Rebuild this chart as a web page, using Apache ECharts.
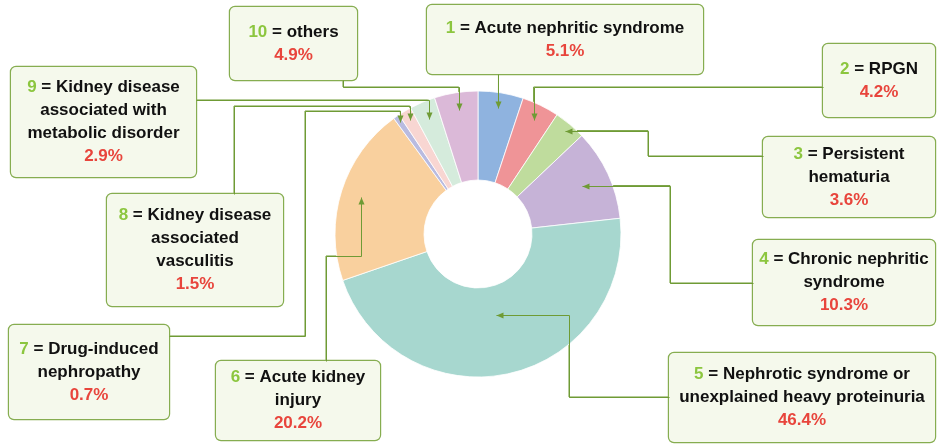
<!DOCTYPE html>
<html>
<head>
<meta charset="utf-8">
<script src="https://cdn.jsdelivr.net/npm/echarts@6/dist/echarts.min.js"></script>
<style>html,body{margin:0;padding:0;background:#fff}#c{width:937px;height:444px}</style>
</head>
<body>
<div id="c"></div>
<script>
// ---- data ----
const categories = [
  'Acute nephritic syndrome',
  'RPGN',
  'Persistent\nhematuria',
  'Chronic nephritic\nsyndrome',
  'Nephrotic syndrome or\nunexplained heavy proteinuria',
  'Acute kidney\ninjury',
  'Drug-induced\nnephropathy',
  'Kidney disease\nassociated\nvasculitis',
  'Kidney disease\nassociated with\nmetabolic disorder',
  'others'
];
const codes = ['1', '2', '3', '4', '5', '6', '7', '8', '9', '10'];
const values = [5.1, 4.2, 3.6, 10.3, 46.4, 20.2, 0.7, 1.5, 2.9, 4.9];

// ---- styles / layout ----
const colors = ['#8fb3df', '#ef9497', '#bfdc9d', '#c6b3d7', '#a7d7cf', '#f9d09e', '#b9bbe0', '#f8d6d2', '#d5ebdc', '#dbb9d8'];
const FONT = '"Liberation Sans", Arial, Helvetica, sans-serif';
const FS = 17;
const LINE = '#6f9b35';
const CX = 478, CY = 234;
const LH = 23;
// box centre, size, number of text lines, arrow radius, route
const boxes = [
  {x: 565,   y: 39.5,  w: 276, h: 69,  n: 2, r: 128, dir: 'v', bend: 74,  rest: []},
  {x: 879,   y: 80.5,  w: 112, h: 73,  n: 2, r: 127, dir: 'v', bend: 87,  rest: [[823, 87]]},
  {x: 849,   y: 177,   w: 172, h: 80,  n: 3, r: 135, dir: 'h', bend: 648, rest: [[648, 156], [763, 156]]},
  {x: 844,   y: 282.5, w: 182, h: 85,  n: 3, r: 115, dir: 'h', bend: 670, rest: [[670, 283], [753, 283]]},
  {x: 802,   y: 397.5, w: 266, h: 89,  n: 3, r: 83,  dir: 'h', bend: 569, rest: [[569, 397], [669, 397]]},
  {x: 298,   y: 400.5, w: 164, h: 79,  n: 3, r: 123, dir: 'v', bend: 256, rest: [[326, 256], [326, 361]]},
  {x: 89,    y: 372,   w: 160, h: 94,  n: 3, r: 136, dir: 'v', bend: 111, rest: [[305, 111], [305, 336], [169, 336]]},
  {x: 195,   y: 250,   w: 176, h: 112, n: 4, r: 133, dir: 'v', bend: 106, rest: [[234, 106], [234, 194]]},
  {x: 103.5, y: 122,   w: 185, h: 110, n: 4, r: 125, dir: 'v', bend: 100, rest: [[196, 100]]},
  {x: 293.5, y: 43.5,  w: 127, h: 73,  n: 2, r: 125, dir: 'v', bend: 87,  rest: [[343, 87], [343, 80]]}
];

const chart = echarts.init(document.getElementById('c'), null, {renderer: 'canvas'});
const leaders = [];

function midDir(i) {
  const total = values.reduce((a, b) => a + b, 0);
  let acc = 0;
  for (let k = 0; k < i; k++) acc += values[k];
  const a = (acc + values[i] / 2) / total * Math.PI * 2;
  return [Math.sin(a), -Math.cos(a)];
}

const data = values.map((v, i) => {
  const b = boxes[i];
  return {
    value: v,
    name: categories[i],
    itemStyle: {color: colors[i]},
    label: {width: b.w - 10, padding: [(b.h - b.n * LH) / 2, 5]}
  };
});

const richBase = {fontFamily: FONT, fontSize: FS, fontWeight: 'bold', lineHeight: LH, align: 'center'};

const option = {
  animation: false,
  series: [{
    type: 'pie',
    center: [CX, CY],
    radius: [54, 143],
    startAngle: 90,
    clockwise: true,
    avoidLabelOverlap: false,
    data: data,
    itemStyle: {borderColor: '#ffffff', borderWidth: 0.8},
    emphasis: {disabled: true},
    label: {
      show: true,
      position: 'outside',
      align: 'center',
      formatter: p => '{n|' + codes[p.dataIndex] + '}{t| = ' + categories[p.dataIndex] + '}\n{p|' + values[p.dataIndex].toFixed(1) + '%}',
      backgroundColor: '#f5f9ec',
      borderColor: '#86ad50',
      borderWidth: 1.2,
      borderRadius: 5,
      fontFamily: FONT,
      fontSize: FS,
      fontWeight: 'bold',
      lineHeight: LH,
      color: '#111',
      rich: {
        n: Object.assign({color: '#8cc63f'}, richBase),
        t: Object.assign({color: '#111111'}, richBase),
        p: Object.assign({color: '#e8453c'}, richBase)
      }
    },
    labelLine: {show: true, length: 10, length2: 10, smooth: false, lineStyle: {color: LINE, width: 1}},
    labelLayout: function (params) {
      const i = params.dataIndex;
      const b = boxes[i];
      let u;
      const lp = params.labelLinePoints;
      if (lp && lp.length) {
        const dx = lp[0][0] - CX, dy = lp[0][1] - CY;
        const L = Math.hypot(dx, dy) || 1;
        u = [dx / L, dy / L];
      } else {
        u = midDir(i);
      }
      const tip = [CX + u[0] * b.r, CY + u[1] * b.r];
      const pts = [tip];
      if (b.dir === 'v') pts.push([tip[0], b.bend]); else pts.push([b.bend, tip[1]]);
      b.rest.forEach(p => pts.push(p.slice()));
      leaders[i] = pts;
      return {x: b.x, y: b.y, align: 'center', verticalAlign: 'middle', labelLinePoints: pts};
    }
  }]
};

chart.setOption(option);

function leaderGraphics() {
  const els = [];
  leaders.forEach(pts => {
    if (!pts) return;
    els.push({
      type: 'polyline', silent: true, z: 100,
      shape: {points: pts.map(p => [Math.round(p[0]) + 0.5, Math.round(p[1]) + 0.5])},
      style: {stroke: LINE, lineWidth: 1, fill: null}
    });
    const tip = [Math.round(pts[0][0]) + 0.5, Math.round(pts[0][1]) + 0.5];
    const from = pts[1];
    const dx = pts[0][0] - from[0], dy = pts[0][1] - from[1];
    const L = Math.hypot(dx, dy) || 1;
    const ux = dx / L, uy = dy / L;
    const nx = -uy, ny = ux;
    const len = 7, hw = 3;
    const bx = tip[0] - ux * len, by = tip[1] - uy * len;
    els.push({
      type: 'polygon', silent: true, z: 101,
      shape: {points: [tip, [bx + nx * hw, by + ny * hw], [bx - nx * hw, by - ny * hw]]},
      style: {fill: LINE}
    });
  });
  return els;
}
chart.setOption({graphic: {elements: leaderGraphics()}});
</script>
</body>
</html>
